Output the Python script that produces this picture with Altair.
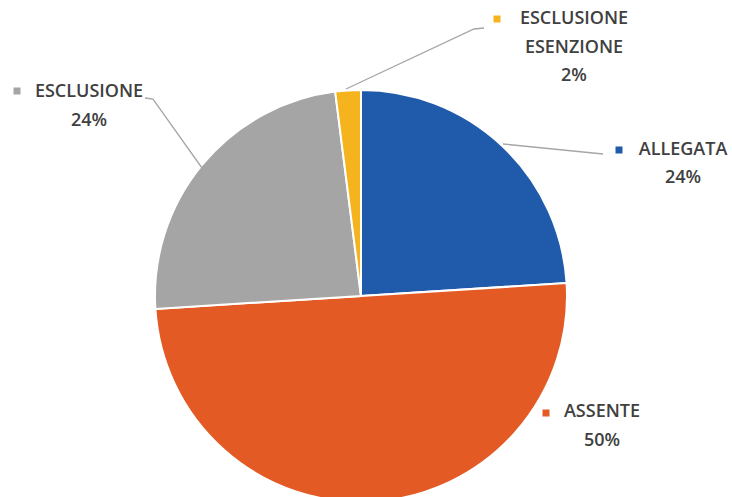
import altair as alt
import pandas as pd

categories = ["ALLEGATA", "ASSENTE", "ESCLUSIONE", "ESCLUSIONE ESENZIONE"]
values = [24, 50, 24, 2]
colors = ["#1F5BAA", "#E35A24", "#A5A5A5", "#F5B41E"]

# layout of the pie (pixels)
CX, CY, R = 361, 296, 206

pie_df = pd.DataFrame({"cat": categories, "val": values, "ord": list(range(len(categories)))})

pie = alt.Chart(pie_df).mark_arc(radius=R, stroke="white", strokeWidth=2).encode(
    theta=alt.Theta("val:Q", stack=True),
    color=alt.Color("cat:N", scale=alt.Scale(domain=categories, range=colors), legend=None),
    order=alt.Order("ord:Q"),
    x=alt.value(CX),
    y=alt.value(CY),
)

# label layout: (center x of text, list of y for each line, square x, square y)
label_layout = {
    "ALLEGATA": (683, [150, 178], 619, 150),
    "ASSENTE": (602, [412, 441], 546, 413),
    "ESCLUSIONE": (89, [92, 121], 17, 91),
    "ESCLUSIONE ESENZIONE": (574, [19, 48, 76], 497, 19),
}
label_lines = {
    "ALLEGATA": ["ALLEGATA"],
    "ASSENTE": ["ASSENTE"],
    "ESCLUSIONE": ["ESCLUSIONE"],
    "ESCLUSIONE ESENZIONE": ["ESCLUSIONE", "ESENZIONE"],
}

txt_rows = []
sq_rows = []
for c, v in zip(categories, values):
    cx, ys, sx, sy = label_layout[c]
    lines = label_lines[c] + [f"{v}%"]
    for t, yy in zip(lines, ys):
        txt_rows.append({"t": t, "px": cx, "py": yy})
    sq_rows.append({"cat": c, "px": sx, "py": sy})

txt_df = pd.DataFrame(txt_rows)
sq_df = pd.DataFrame(sq_rows)

texts = alt.Chart(txt_df).mark_text(
    font="Open Sans", fontSize=18, fontWeight=600, color="#404040",
    align="center", baseline="middle",
).encode(
    x=alt.X("px:Q", scale=None),
    y=alt.Y("py:Q", scale=None),
    text="t:N",
)

squares = alt.Chart(sq_df).mark_square(size=49, opacity=1, filled=True).encode(
    x=alt.X("px:Q", scale=None),
    y=alt.Y("py:Q", scale=None),
    color=alt.Color("cat:N", scale=alt.Scale(domain=categories, range=colors), legend=None),
)

# leader lines
leaders = {
    "ALLEGATA": [(603, 154), (503, 144)],
    "ESCLUSIONE": [(145, 98), (153, 99), (202, 168)],
    "ESCLUSIONE ESENZIONE": [(484, 28), (474, 29), (346, 89)],
}
ld_rows = []
for c, pts in leaders.items():
    for i, (px, py) in enumerate(pts):
        ld_rows.append({"cat": c, "i": i, "px": px, "py": py})
ld_df = pd.DataFrame(ld_rows)

lines = alt.Chart(ld_df).mark_line(color="#A6A6A6", strokeWidth=1.3).encode(
    x=alt.X("px:Q", scale=None),
    y=alt.Y("py:Q", scale=None),
    detail="cat:N",
    order="i:Q",
)

chart = alt.layer(pie, lines, squares, texts).properties(
    width=732, height=497, autosize=alt.AutoSizeParams(type="none"), padding=0,
    background="white",
).configure_view(stroke=None)

chart.save("out.html", embed_options={"renderer": "svg", "actions": False})
